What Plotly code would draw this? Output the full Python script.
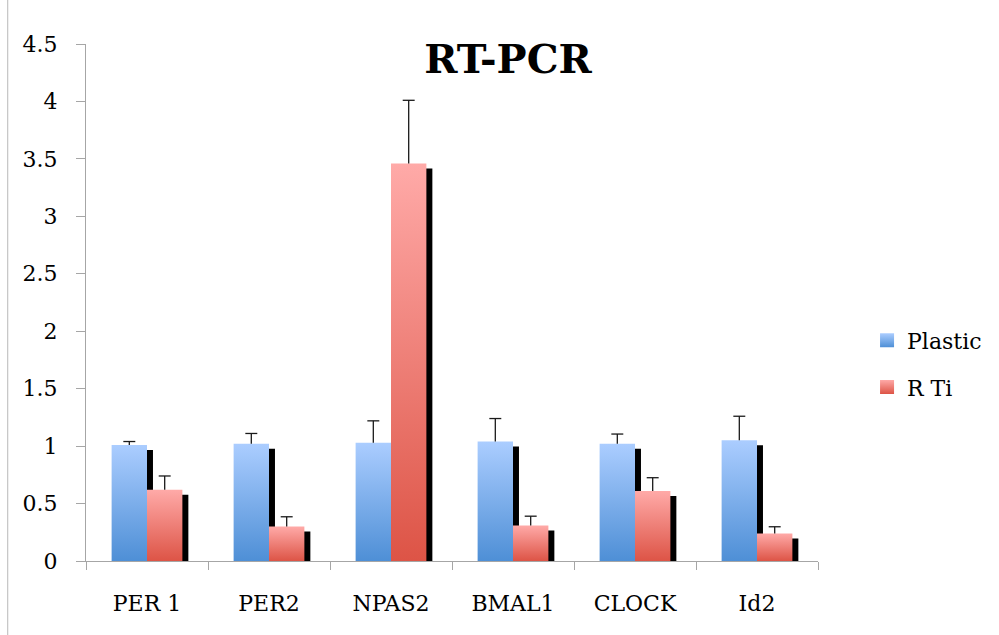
import plotly.graph_objects as go

# Relative expression (RT-PCR), mean with upward error bars
categories = ["PER 1", "PER2", "NPAS2", "BMAL1", "CLOCK", "Id2"]
plastic = [1.01, 1.02, 1.03, 1.04, 1.02, 1.05]
plastic_err = [0.03, 0.09, 0.19, 0.20, 0.085, 0.21]
rti = [0.62, 0.30, 3.46, 0.31, 0.61, 0.24]
rti_err = [0.12, 0.085, 0.55, 0.08, 0.115, 0.058]
y_ticks = [0, 0.5, 1, 1.5, 2, 2.5, 3, 3.5, 4, 4.5]

# styling
FONT = "DejaVu Serif"
AXIS_GREY = "#a6a6a6"
BAR_W = 0.29          # bar width in category units
SHADOW_DX = 0.049     # shadow shift to the right (category units)
SHADOW_DY = 0.0435    # shadow drop (value units)
CAP_HALF = 0.049      # half width of error-bar caps (category units)
series = [
    dict(name="Plastic", values=plastic, errors=plastic_err, side=-1,
         top="#abcdff", bottom="#4e8fd6"),
    dict(name="R Ti", values=rti, errors=rti_err, side=0,
         top="#ffaaa8", bottom="#dd5446"),
]

fig = go.Figure()


def rect(x0, x1, top):
    return [x0, x1, x1, x0, x0], [0, 0, top, top, 0]


# drop shadows behind every bar
for s in series:
    for i, v in enumerate(s["values"]):
        x0 = i + s["side"] * BAR_W + SHADOW_DX
        xs, ys = rect(x0, x0 + BAR_W, v - SHADOW_DY)
        fig.add_trace(go.Scatter(x=xs, y=ys, mode="lines", fill="toself",
                                 fillcolor="#000000", line=dict(width=0),
                                 hoverinfo="skip", showlegend=False))

# gradient-filled bars
for s in series:
    for i, v in enumerate(s["values"]):
        x0 = i + s["side"] * BAR_W
        xs, ys = rect(x0, x0 + BAR_W, v)
        fig.add_trace(go.Scatter(
            x=xs, y=ys, mode="lines", fill="toself",
            line=dict(width=0, color=s["bottom"]),
            fillgradient=dict(type="vertical", start=0, stop=v,
                              colorscale=[[0, s["bottom"]], [1, s["top"]]]),
            hoverinfo="skip", showlegend=False))

# error bars (upper side only): stem from bar top plus a cap
for s in series:
    ex, ey = [], []
    for i, (v, e) in enumerate(zip(s["values"], s["errors"])):
        c = i + s["side"] * BAR_W + BAR_W / 2
        ex += [c, c, None, c - CAP_HALF, c + CAP_HALF, None]
        ey += [v, v + e, None, v + e, v + e, None]
    fig.add_trace(go.Scatter(x=ex, y=ey, mode="lines",
                             line=dict(color="#1a1a1a", width=1.3),
                             hoverinfo="skip", showlegend=False))

# legend swatches
for k, s in enumerate(series):
    fig.add_trace(go.Scatter(
        x=[None], y=[None], mode="markers", name=s["name"],
        legendgroup=f"g{k}",
        marker=dict(symbol="square", size=14, color=s["top"],
                    gradient=dict(type="vertical", color=s["bottom"]),
                    line=dict(width=0))))

fig.update_layout(
    width=999, height=635,
    margin=dict(l=86, r=175, t=44, b=74),
    paper_bgcolor="white", plot_bgcolor="white",
    font=dict(family=FONT, size=22, color="#000000"),
    title=dict(text="<b>RT-PCR</b>", font=dict(family=FONT, size=40, color="#000000"),
               xref="container", x=508 / 999, xanchor="center",
               yref="container", y=1 - 59 / 635, yanchor="middle"),
    showlegend=True,
    legend=dict(x=1.067, xanchor="left", y=0.381, yanchor="middle",
                traceorder="grouped", tracegroupgap=15,
                font=dict(family=FONT, size=22), bgcolor="rgba(0,0,0,0)"),
    xaxis=dict(range=[-0.5, len(categories) - 0.5], tickmode="array",
               tickvals=list(range(len(categories))), ticktext=categories,
               ticks="", showgrid=False, zeroline=False,
               showline=True, linecolor=AXIS_GREY, linewidth=1.3,
               ticklabelstandoff=22,
               minor=dict(tickmode="array",
                          tickvals=[i - 0.5 for i in range(len(categories) + 1)],
                          ticks="outside", ticklen=8, tickcolor=AXIS_GREY,
                          tickwidth=1.3, showgrid=False)),
    yaxis=dict(range=[0, 4.5], tickmode="array", tickvals=y_ticks,
               ticktext=[f"{t:g}" for t in y_ticks],
               ticks="outside", ticklen=9, tickcolor=AXIS_GREY, tickwidth=1.3,
               showgrid=False, zeroline=False,
               showline=True, linecolor=AXIS_GREY, linewidth=1.3,
               ticklabelstandoff=14),
    shapes=[dict(type="line", xref="paper", yref="paper",
                 x0=-79 / 738, x1=-79 / 738, y0=-0.2, y1=1.2,
                 line=dict(color="#c8c8c8", width=1.3))],
)

fig.write_html("out.html")
